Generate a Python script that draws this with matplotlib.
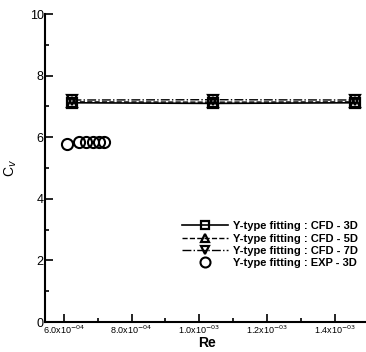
import numpy as np
import matplotlib
matplotlib.use('Agg')
import matplotlib.pyplot as plt
from matplotlib.ticker import MultipleLocator, FixedLocator

plt.rcParams['font.family'] = ['Liberation Sans', 'DejaVu Sans']

# CFD results (three grids) and experiment
re_cfd = [6.26e-4, 1.041e-3, 1.459e-3]
cv_cfd3 = [7.12, 7.10, 7.12]
cv_cfd5 = [7.15, 7.14, 7.15]
cv_cfd7 = [7.21, 7.22, 7.21]
re_exp = [6.09e-4, 6.44e-4, 6.65e-4, 6.85e-4, 7.03e-4, 7.20e-4]
cv_exp = [5.78, 5.84, 5.85, 5.85, 5.85, 5.84]

xticks = [6.0e-4, 8.0e-4, 1.0e-3, 1.2e-3, 1.4e-3]
xticklabels = [r'6.0x10$^{-04}$', r'8.0x10$^{-04}$', r'1.0x10$^{-03}$',
               r'1.2x10$^{-03}$', r'1.4x10$^{-03}$']

fig = plt.figure(figsize=(3.66, 3.52), dpi=100)
ax = fig.add_axes([0.123, 0.085, 0.885, 0.875])

ms = 7
ax.plot(re_cfd, cv_cfd3, 'k-', lw=1.2, marker='s', ms=ms, mfc='none', mew=1.6,
        label='Y-type fitting : CFD - 3D')
ax.plot(re_cfd, cv_cfd5, 'k--', lw=1.0, marker='^', ms=ms, mfc='none', mew=1.6,
        label='Y-type fitting : CFD - 5D')
ax.plot(re_cfd, cv_cfd7, 'k-.', lw=1.0, marker='v', ms=ms, mfc='none', mew=1.6,
        label='Y-type fitting : CFD - 7D')
ax.plot(re_exp, cv_exp, 'ko', ms=ms + 1, mfc='none', mew=1.5, ls='none',
        label='Y-type fitting : EXP - 3D')

ax.set_xlim(5.45e-4, 1.5e-3)
ax.set_ylim(0, 10)
ax.xaxis.set_major_locator(FixedLocator(xticks))
ax.set_xticklabels(xticklabels, fontsize=6.5)
ax.xaxis.set_minor_locator(MultipleLocator(1e-4))
ax.yaxis.set_major_locator(MultipleLocator(2))
ax.yaxis.set_minor_locator(MultipleLocator(1))
ax.tick_params(which='both', direction='in', width=1.2, labelsize=9)
ax.tick_params(axis='x', labelsize=6.5, pad=1)
ax.tick_params(axis='y', pad=1)
ax.tick_params(which='major', length=6)
ax.tick_params(which='minor', length=3)
for s in ['top', 'right']:
    ax.spines[s].set_visible(False)
for s in ['left', 'bottom']:
    ax.spines[s].set_linewidth(1.5)

ax.set_xlabel('Re', fontsize=10, fontweight='bold', labelpad=0)
ax.set_ylabel(r'C$_v$', fontsize=10, labelpad=8)

ax.legend(loc='upper left', bbox_to_anchor=(0.405, 0.345), frameon=False,
          handlelength=4.2, handletextpad=0.4, labelspacing=0.2,
          borderpad=0, markerscale=0.9, prop={'weight': 'bold', 'size': 8})

fig.savefig('out.png', dpi=100)
